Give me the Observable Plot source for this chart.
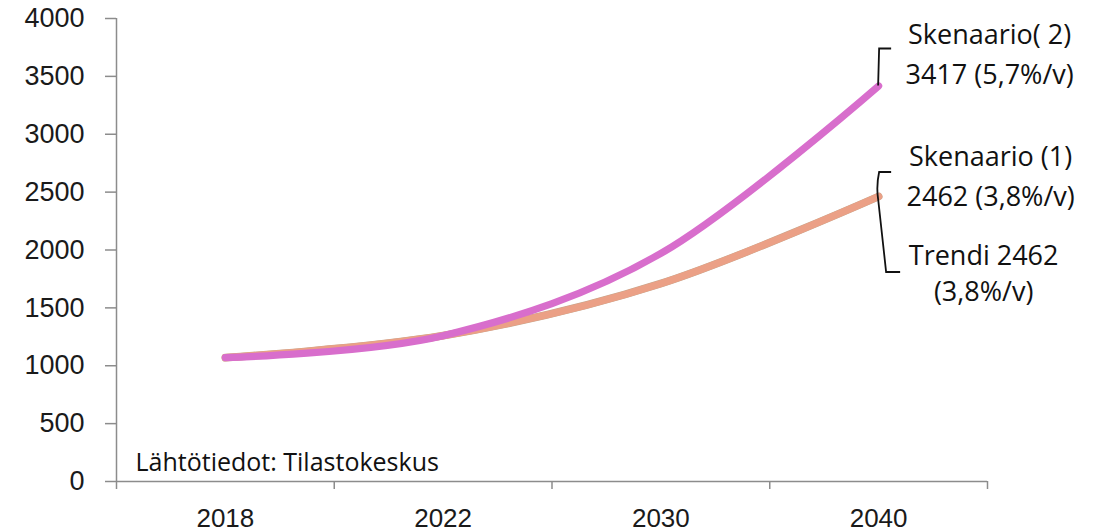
<!DOCTYPE html>
<html>
<head>
<meta charset="utf-8">
<script src="https://cdn.jsdelivr.net/npm/d3@7"></script>
<script src="https://cdn.jsdelivr.net/npm/@observablehq/plot@0.6"></script>
<style>
  body { margin: 0; background: #fff; }
  #chart svg { display: block; background: #fff; }
</style>
</head>
<body>
<div id="chart"></div>
<script>
// ---- data ----
const years = ["2018", "2022", "2030", "2040"];
const trendi = [1070, 1260, 1710, 2462];
const skenaario1 = [1070, 1260, 1710, 2462];
const skenaario2 = [1070, 1260, 1970, 3417];
const seriesNames = ["Trendi", "Skenaario (1)", "Skenaario (2)"];
const seriesColors = ["#c4a68c", "#eba086", "#d86ecc"];
const labelS2 = ["Skenaario( 2)", "3417 (5,7%/v)"];
const labelS1 = ["Skenaario (1)", "2462 (3,8%/v)"];
const labelTrendi = ["Trendi 2462", "(3,8%/v)"];
const yTicks = [0, 500, 1000, 1500, 2000, 2500, 3000, 3500, 4000];
const source = "Lähtötiedot: Tilastokeskus";

const seriesValues = [trendi, skenaario1, skenaario2];
const rows = [];
seriesValues.forEach((vals, s) => vals.forEach((v, i) => rows.push({series: seriesNames[s], i, value: v})));
const last = years.length - 1;

const axisColor = "#8c8c8c";
const numFont = "'Liberation Sans', Arial, sans-serif";
const labFont = "'Open Sans', sans-serif";

const chart = Plot.plot({
  width: 1109,
  height: 532,
  marginLeft: 116,
  marginRight: 122,
  marginTop: 18,
  marginBottom: 51,
  style: {fontFamily: numFont, color: "#1a1a1a", background: "#fff"},
  x: {domain: [-0.5, years.length - 0.5], axis: null},
  y: {domain: [0, 4000], axis: null},
  color: {domain: seriesNames, range: seriesColors},
  marks: [
    Plot.axisY({ticks: yTicks, tickSize: 11, tickPadding: 21, fontSize: 27, stroke: axisColor, strokeWidth: 1.5, label: null, tickFormat: d => String(d)}),
    Plot.axisX({ticks: d3.range(-0.5, years.length, 1), tickSize: 8, tickFormat: () => "", stroke: axisColor, strokeWidth: 1.5, label: null}),
    Plot.axisX({ticks: d3.range(years.length), tickSize: 0, tickPadding: 27, fontSize: 26, tickFormat: i => years[i], label: null}),
    Plot.ruleX([-0.5], {stroke: axisColor, strokeWidth: 1.5}),
    Plot.ruleY([0], {stroke: axisColor, strokeWidth: 1.5}),
    Plot.line(rows.filter(r => r.series === seriesNames[0]), {x: "i", y: "value", stroke: "series", strokeWidth: 7.8, curve: "cardinal"}),
    Plot.line(rows.filter(r => r.series === seriesNames[1]), {x: "i", y: "value", stroke: "series", strokeWidth: 7.2, curve: "cardinal"}),
    Plot.line(rows.filter(r => r.series === seriesNames[2]), {x: "i", y: "value", stroke: "series", strokeWidth: 7.2, curve: "cardinal"}),
    Plot.text([labelS2.join("\n")], {x: () => last, y: () => skenaario2[last], text: d => d, dx: 111, dy: -35, fontFamily: labFont, fontSize: 27, lineHeight: 1.48, textAnchor: "middle", lineAnchor: "middle", fill: "#111"}),
    Plot.text([labelS1.join("\n")], {x: () => last, y: () => skenaario1[last], text: d => d, dx: 112, dy: -23, fontFamily: labFont, fontSize: 27, lineHeight: 1.48, textAnchor: "middle", lineAnchor: "middle", fill: "#111"}),
    Plot.text([labelTrendi.join("\n")], {x: () => last, y: () => trendi[last], text: d => d, dx: 105, dy: 75, fontFamily: labFont, fontSize: 27, lineHeight: 1.34, textAnchor: "middle", lineAnchor: "middle", fill: "#111"}),
    Plot.text([source], {frameAnchor: "bottom-left", text: d => d, dx: 19, dy: -19, fontFamily: labFont, fontSize: 25, textAnchor: "start", lineAnchor: "middle", fill: "#111"})
  ]
});

// bracket callouts anchored on the series end points
const sx = chart.scale("x"), sy = chart.scale("y");
const svg = d3.select(chart.tagName.toLowerCase() === "svg" ? chart : chart.querySelector("svg"));
const px = sx.apply(last);
const p2 = sy.apply(skenaario2[last]);
const p1 = sy.apply(skenaario1[last]);
svg.append("path")
  .attr("d", `M${px + 13},${p2 - 37} L${px + 1},${p2 - 37} L${px},${p2}`)
  .attr("fill", "none").attr("stroke", "#111").attr("stroke-width", 1.8);
svg.append("path")
  .attr("d", `M${px + 13},${p1 - 24} L${px + 1},${p1 - 24} Q${px - 2},${p1 - 10} ${px},${p1 + 3} L${px + 8},${p1 + 76} L${px + 22},${p1 + 76}`)
  .attr("fill", "none").attr("stroke", "#111").attr("stroke-width", 1.8);

document.getElementById("chart").appendChild(chart);
</script>
</body>
</html>
